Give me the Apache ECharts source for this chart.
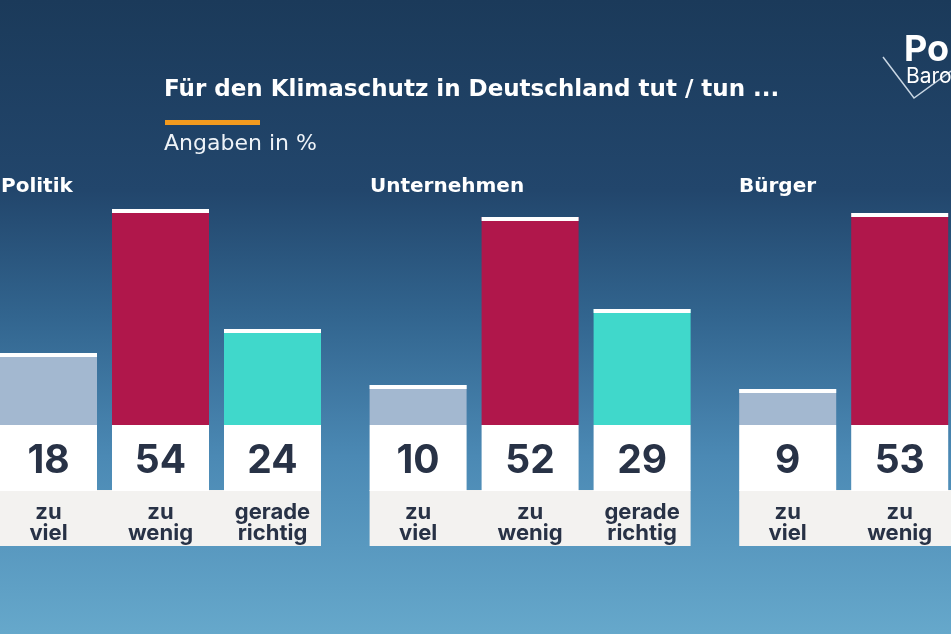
<!DOCTYPE html>
<html>
<head>
<meta charset="utf-8">
<script src="https://cdn.jsdelivr.net/npm/echarts@6/dist/echarts.min.js"></script>
<style>
  html, body { margin: 0; padding: 0; }
  #chart { width: 951px; height: 634px; }
</style>
</head>
<body>
<div id="chart"></div>
<script>
// Politbarometer: Klimaschutz in Deutschland
const groups = ["Politik", "Unternehmen", "Bürger"];
const answers = ["zu\nviel", "zu\nwenig", "gerade\nrichtig"];
const politik = [18, 54, 24];
const unternehmen = [10, 52, 29];
const buerger = [9, 53, null]; // dritter Balken ist im Bild abgeschnitten

const groupValues = [politik, unternehmen, buerger];
const barColors = ["#a3b8d0", "#b0174b", "#40d8cb"];
const GROUP_STRIDE = 3.3; // Abstand der Gruppen in Balken-Einheiten
const FONT = "Inter, 'Noto Sans', sans-serif";
const WIDE = "'DejaVu Sans', sans-serif";
const BAR_W = 97;

const chart = echarts.init(document.getElementById("chart"));

function renderItem(params, api) {
  const pos = api.value(0);
  const v = api.value(1);
  const idx = api.value(2);
  const base = api.coord([pos, 0]);
  const cx = base[0];
  const y0 = base[1];
  const half = BAR_W / 2;
  const band = api.size([1, 0])[0];
  const children = [];

  if (v != null && !isNaN(v)) {
    const top = api.coord([pos, v])[1];
    children.push({
      type: "rect",
      shape: { x: cx - half, y: top, width: BAR_W, height: y0 - top },
      style: { fill: barColors[idx] }
    });
    // weiße Kappe oben
    children.push({
      type: "rect",
      shape: { x: cx - half, y: top, width: BAR_W, height: 4 },
      style: { fill: "#ffffff" }
    });
  }

  // graue Beschriftungsleiste (durchgehend über die Gruppe)
  const gl = idx === 0 ? cx - half : cx - band / 2 - 1;
  const gr = idx === 2 ? cx + half : cx + band / 2 + 1;
  children.push({
    type: "rect",
    shape: { x: gl, y: y0 + 65, width: gr - gl, height: 56 },
    style: { fill: "#f3f2f0" }
  });
  // weißes Zahlenfeld
  children.push({
    type: "rect",
    shape: { x: cx - half, y: y0, width: BAR_W, height: 66 },
    style: { fill: "#ffffff" }
  });
  if (v != null && !isNaN(v)) {
    children.push({
      type: "text",
      style: {
        text: String(v), x: cx, y: y0 + 36,
        align: "center", verticalAlign: "middle",
        fontSize: 39, fontWeight: "bold", fontFamily: FONT, fill: "#283246"
      }
    });
  }
  children.push({
    type: "text",
    style: {
      text: answers[idx], x: cx, y: y0 + 98,
      align: "center", verticalAlign: "middle",
      fontSize: 22, fontWeight: "bold", fontFamily: FONT, fill: "#283246",
      lineHeight: 21
    }
  });

  return { type: "group", children: children };
}

const series = [];
groups.forEach((g, gi) => {
  series.push({
    type: "custom",
    name: g,
    clip: false,
    renderItem: renderItem,
    data: groupValues[gi].map((v, i) => [gi * GROUP_STRIDE + i, v, i])
  });
});

const titleLeft = [-4, 365, 734];
const titles = groups.map((g, gi) => ({
  text: g,
  left: titleLeft[gi],
  top: 172,
  textStyle: { color: "#ffffff", fontSize: 20, fontWeight: "bold", fontFamily: WIDE }
}));

titles.push({
  text: "Für den Klimaschutz in Deutschland tut / tun ...",
  left: 159,
  top: 74,
  textStyle: { color: "#ffffff", fontSize: 23, fontWeight: "bold", fontFamily: WIDE }
});
titles.push({
  text: "Angaben in %",
  left: 159,
  top: 128,
  textStyle: { color: "#eef3f8", fontSize: 22, fontWeight: "normal", fontFamily: WIDE }
});

chart.setOption({
  backgroundColor: {
    type: "linear", x: 0, y: 0, x2: 0, y2: 1,
    colorStops: [
      { offset: 0, color: "#1b3a5a" },
      { offset: 0.3, color: "#22466c" },
      { offset: 0.5, color: "#32658f" },
      { offset: 0.72, color: "#4b89b4" },
      { offset: 1, color: "#66a8cb" }
    ]
  },
  animation: false,
  title: titles,
  grid: { left: 0, right: 0, top: 125, height: 300 },
  // 112 px pro Balken-Einheit, erster Balken mittig bei 48.5 px
  xAxis: { type: "value", min: -48.5 / 112, max: (951 - 48.5) / 112, show: false },
  yAxis: { type: "value", min: 0, max: 75, show: false },
  series: series,
  graphic: [
    // orange Linie unter dem Titel
    { type: "rect", shape: { x: 165, y: 120, width: 95, height: 5 }, style: { fill: "#f39a1e" } },
    // Logo
    { type: "polyline", shape: { points: [[883, 57], [914, 98], [951, 71]] },
      style: { stroke: "#c9d6e3", lineWidth: 1.5, fill: null } },
    { type: "text", style: { text: "Polit", x: 904, y: 50, verticalAlign: "middle",
      fontSize: 36, fontWeight: "bold", fontFamily: FONT, fill: "#ffffff" } },
    { type: "text", style: { text: "Barometer", x: 906, y: 77, verticalAlign: "middle",
      fontSize: 21, fontFamily: FONT, fill: "#ffffff" } }
  ]
});
</script>
</body>
</html>
